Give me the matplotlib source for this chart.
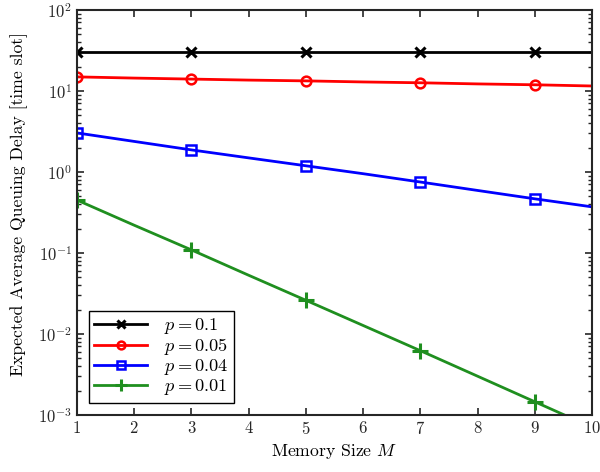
import numpy as np
import matplotlib
matplotlib.use('Agg')
import matplotlib.pyplot as plt

plt.rcParams['font.family'] = 'serif'
plt.rcParams['font.serif'] = ['cmr10', 'DejaVu Serif']
plt.rcParams['mathtext.fontset'] = 'cm'
plt.rcParams['axes.formatter.use_mathtext'] = True

# memory size M
M = [1, 2, 3, 4, 5, 6, 7, 8, 9, 10]

# expected average queuing delay for each p
delay_p10 = [30, 30, 30, 30, 30, 30, 30, 30, 30, 30]
delay_p05 = [14.9, 14.4, 14.0, 13.6, 13.3, 12.9, 12.6, 12.2, 11.9, 11.5]
delay_p04 = [3.03, 2.38, 1.87, 1.49, 1.19, 0.95, 0.75, 0.59, 0.465, 0.37]
delay_p01 = [0.45, 0.22, 0.109, 0.053, 0.026, 0.0127, 0.0062, 0.003, 0.00145, 0.0007]

labels = ['$p = 0.1$', '$p = 0.05$', '$p = 0.04$', '$p = 0.01$']

fig = plt.figure(figsize=(6, 4.72), dpi=100)
ax = fig.add_axes([0.128, 0.121, 0.859, 0.858])

ax.plot(M, delay_p10, color='black', lw=2, marker='x', ms=7, mew=2.2, markevery=2, label=labels[0])
ax.plot(M, delay_p05, color='red', lw=2, marker='o', ms=7, mew=1.8, mfc='none', markevery=2, label=labels[1])
ax.plot(M, delay_p04, color='blue', lw=2, marker='s', ms=7, mew=1.8, mfc='none', markevery=2, label=labels[2])
ax.plot(M, delay_p01, color='#1f8f1f', lw=2, marker='+', ms=11, mew=2.2, markevery=2, label=labels[3])

ax.set_yscale('log')
ax.set_xlim(1, 10)
ax.set_ylim(1e-3, 1e2)
ax.set_xticks(range(1, 11))
ax.tick_params(which='both', direction='in', top=True, right=True, labelsize=12, colors='#262626')
ax.tick_params(which='major', length=5, width=1.2)
ax.tick_params(which='minor', length=3, width=1.0)
for s in ax.spines.values():
    s.set_linewidth(1.5)
    s.set_color('#262626')

ax.set_xlabel('Memory Size $M$', fontsize=12.7)
ax.set_ylabel('Expected Average Queuing Delay [time slot]', fontsize=12.7)
ax.yaxis.set_label_coords(-0.095, 0.52)

leg = ax.legend(loc='lower left', fontsize=13.2, fancybox=False, edgecolor='black',
                borderaxespad=0.65, handlelength=2.9, handletextpad=0.9,
                labelspacing=0.0, markerscale=0.8, framealpha=1, borderpad=0.3)
leg.get_frame().set_linewidth(1.0)

fig.savefig('out.png', dpi=100)
